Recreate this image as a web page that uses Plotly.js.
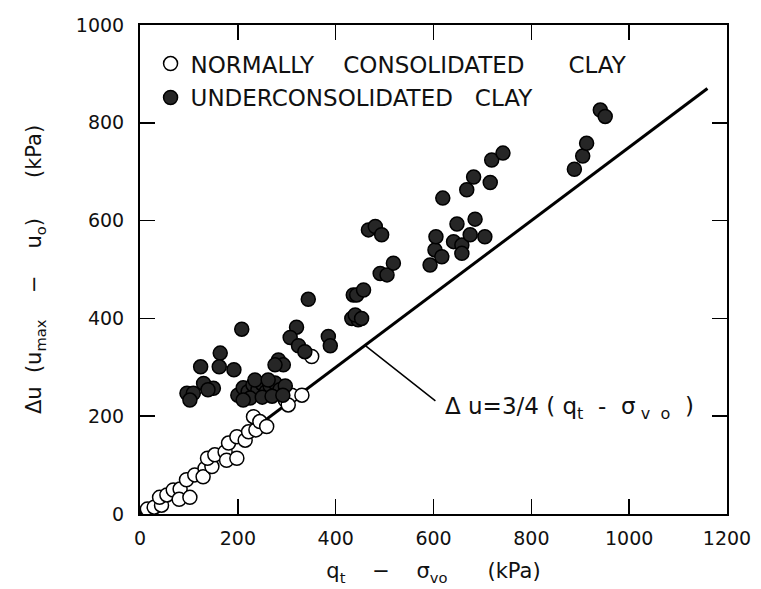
<!DOCTYPE html>
<html>
<head>
<meta charset="utf-8">
<script src="https://cdn.plot.ly/plotly-3.0.1.min.js"></script>
<style>html,body{margin:0;padding:0;background:#fff;}#chart{width:761px;height:589px;}</style>
</head>
<body>
<div id="chart"></div>
<script>
// Normally consolidated clay (open circles)
var ncX = [15,29,44,40,55,68,82,80,102,95,112,133,129,147,138,153,174,177,198,181,198,215,222,237,232,245,259,297,310,331,303,351];
var ncY = [10,14,18,34,39,49,51,30,34,70,80,93,76,97,114,121,127,110,114,145,158,151,168,172,199,189,179,233,243,243,223,322];

// Underconsolidated clay (filled circles)
var ucX = [96,109,102,124,130,150,139,164,162,192,208,
           200,211,221,231,241,250,258,266,276,286,297,225,250,270,211,235,262,292,
           283,293,276,344,320,307,324,337,385,389,
           436,433,446,440,453,443,457,491,505,518,467,481,494,
           593,603,617,605,619,641,658,658,675,705,648,685,668,682,716,719,742,
           888,905,913,941,951];
var ucY = [247,247,233,301,267,257,254,329,301,295,378,
           243,258,250,264,254,266,250,262,268,254,262,237,239,241,233,274,274,243,
           315,305,305,439,382,361,344,332,363,344,
           448,400,397,407,400,448,458,492,489,513,581,588,571,
           509,540,526,567,646,557,550,533,571,567,593,603,663,689,678,724,738,
           705,732,758,826,813];

// Reference line  Δu = 3/4 (qt - σvo)
var lineX = [0, 1160];
var lineY = [0, 870];

// Annotation anchor values
var arrowHead = [460, 345];
var arrowTail = [607, 229];
var labelPos = [620, 217];

var xTicks = [0,200,400,600,800,1000,1200];
var yTicks = [0,200,400,600,800,1000];

var traces = [
  {x: lineX, y: lineY, mode: 'lines', type: 'scatter', showlegend: false,
   line: {color: '#000', width: 3}, hoverinfo: 'skip'},
  {x: ncX, y: ncY, mode: 'markers', type: 'scatter', name: 'NORMALLY&nbsp;&nbsp;&nbsp; CONSOLIDATED&nbsp;&nbsp;&nbsp;&nbsp;&nbsp; CLAY',
   legendgroup: 'a',
   marker: {symbol: 'circle', size: 14, color: '#fff', line: {color: '#000', width: 1.5}}},
  {x: ucX, y: ucY, mode: 'markers', type: 'scatter', name: 'UNDERCONSOLIDATED&nbsp;&nbsp; CLAY',
   legendgroup: 'b',
   marker: {symbol: 'circle', size: 14, color: '#262626', line: {color: '#000', width: 1.5}}}
];

var axisCommon = {
  showline: true, linecolor: '#000', linewidth: 2, mirror: 'ticks',
  ticks: 'inside', ticklen: 15, tickwidth: 1.5, tickcolor: '#000',
  showgrid: false, zeroline: false,
  tickfont: {family: 'DejaVu Sans', size: 19, color: '#111'}
};

var layout = {
  width: 761, height: 589,
  margin: {l: 140, r: 34, t: 25, b: 75},
  paper_bgcolor: '#fff', plot_bgcolor: '#fff',
  showlegend: true,
  legend: {x: 0.018, y: 0.965, xanchor: 'left', yanchor: 'top',
           bgcolor: 'rgba(0,0,0,0)', borderwidth: 0, tracegroupgap: 1,
           traceorder: 'grouped',
           font: {family: 'DejaVu Sans', size: 23, color: '#111'}},
  xaxis: Object.assign({}, axisCommon, {
    range: [0, 1200], tickvals: xTicks, ticktext: xTicks.map(String),
    ticklabelstandoff: 6,
    title: {text: 'q<sub>t</sub>&nbsp;&nbsp;  −&nbsp;&nbsp;  σ<sub>vo</sub>&nbsp;&nbsp;&nbsp;&nbsp;  (kPa)', standoff: 16,
            font: {family: 'DejaVu Sans', size: 21, color: '#111'}}
  }),
  yaxis: Object.assign({}, axisCommon, {
    range: [0, 1000], tickvals: yTicks, ticktext: yTicks.map(String),
    ticklabelstandoff: 10,
    title: {text: 'Δu&nbsp; (u<sub>max</sub>&nbsp;&nbsp;  −&nbsp;&nbsp;  u<sub>o</sub>)&nbsp;&nbsp;&nbsp;&nbsp;  (kPa)', standoff: 28,
            font: {family: 'DejaVu Sans', size: 21, color: '#111'}}
  }),
  annotations: [
    {x: arrowHead[0], y: arrowHead[1], ax: arrowTail[0], ay: arrowTail[1],
     xref: 'x', yref: 'y', axref: 'x', ayref: 'y', text: '', showarrow: true,
     arrowhead: 0, arrowwidth: 1.5, arrowcolor: '#000', standoff: 0, startstandoff: 0},
    {x: labelPos[0], y: labelPos[1], xref: 'x', yref: 'y', xanchor: 'left', yanchor: 'middle',
     text: 'Δ u=3/4 ( q<sub>t</sub>&nbsp; -&nbsp; σ<sub>&nbsp;v&nbsp; o</sub>&nbsp; )', showarrow: false,
     font: {family: 'DejaVu Sans', size: 23, color: '#111'}}
  ]
};

Plotly.newPlot('chart', traces, layout, {displayModeBar: false, staticPlot: true});
</script>
</body>
</html>
